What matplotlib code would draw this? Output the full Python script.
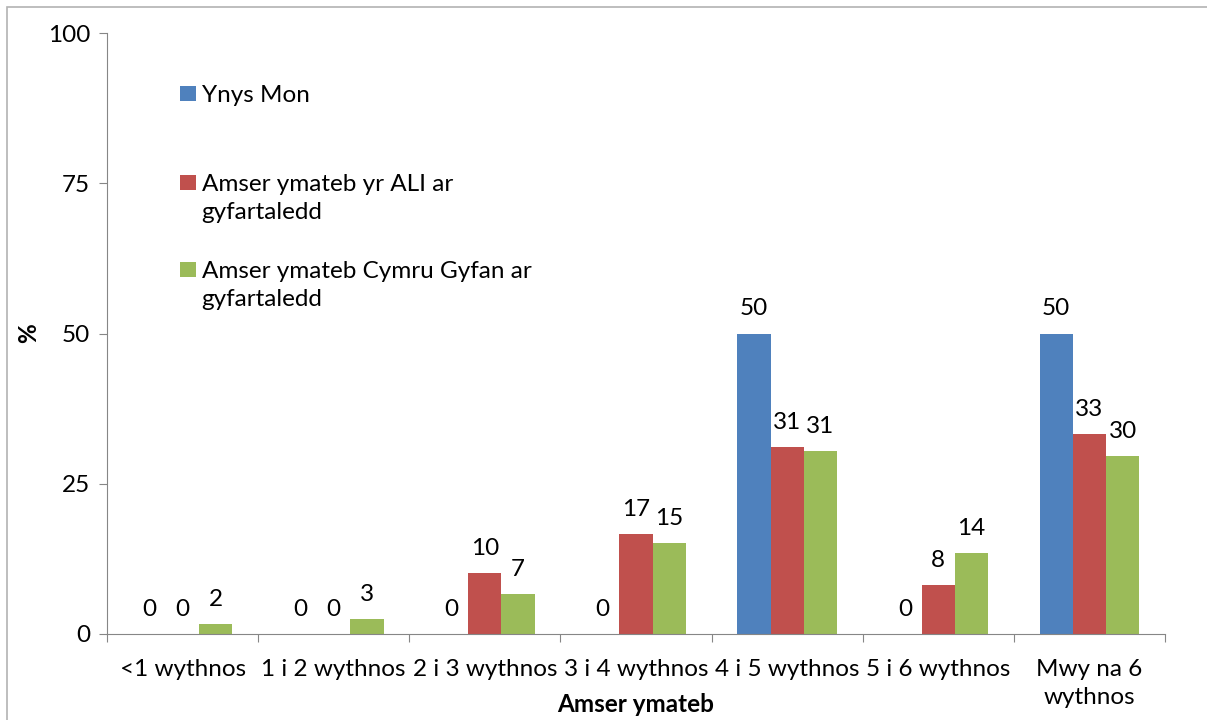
import numpy as np
import matplotlib.pyplot as plt
from matplotlib.patches import Rectangle

categories = ['<1 wythnos', '1 i 2 wythnos', '2 i 3 wythnos', '3 i 4 wythnos',
              '4 i 5 wythnos', '5 i 6 wythnos', 'Mwy na 6\nwythnos']
series = ['Ynys Mon', 'Amser ymateb yr ALI ar\ngyfartaledd',
          'Amser ymateb Cymru Gyfan ar\ngyfartaledd']
ynys_mon = [0, 0, 0, 0, 50, 0, 50]
ali = [0, 0, 10.2, 16.6, 31.1, 8.2, 33.2]
cymru = [1.6, 2.5, 6.6, 15.1, 30.5, 13.5, 29.6]
colors = ['#4F81BD', '#C0504D', '#9BBB59']

plt.rcParams['font.family'] = ['Lato', 'DejaVu Sans']
fs = 17.5

fig = plt.figure(figsize=(12.07, 7.2), dpi=100)
ax = fig.add_axes([107/1207, 1 - 634/720, (1165 - 107)/1207, (634 - 33)/720])

# border round the chart area
fig.patches.append(Rectangle((7/1207, -0.5), 2, 0.5 + 1 - 7/720, transform=fig.transFigure,
                             facecolor='none', edgecolor='#b3b3b3', lw=1.2))

x = np.arange(len(categories))
w = 0.22
for i, (vals, c) in enumerate(zip([ynys_mon, ali, cymru], colors)):
    pos = x + (i - 1) * w
    ax.bar(pos, vals, width=w, color=c, edgecolor='none')
    for px, v in zip(pos, vals):
        # round half up like the spreadsheet does
        ax.annotate('%d' % np.floor(v + 0.5), (px, v), xytext=(0, 13), textcoords='offset points',
                    ha='center', va='baseline', fontsize=fs)

ax.set_xlim(-0.5, len(categories) - 0.5)
ax.set_ylim(0, 100)
ax.set_yticks([0, 25, 50, 75, 100])
ax.tick_params(axis='y', labelsize=fs, length=6, color='#868686', pad=6)

ax.set_xticks(np.arange(-0.5, len(categories)), labels=[])
ax.set_xticks(x, labels=categories, minor=True)
ax.tick_params(axis='x', which='major', length=6, color='#868686')
ax.tick_params(axis='x', which='minor', length=0, labelsize=fs, pad=18)
for lab in ax.get_xticklabels(minor=True):
    lab.set_linespacing(1.4)

for s in ['top', 'right']:
    ax.spines[s].set_visible(False)
for s in ['left', 'bottom']:
    ax.spines[s].set_color('#868686')

ax.set_xlabel('Amser ymateb', fontsize=fs, fontweight='bold')
ax.xaxis.set_label_coords(0.5, -0.098)
ax.set_ylabel('%', fontsize=fs, fontweight='bold')
ax.yaxis.set_label_coords(-0.063, 0.5)

# legend drawn by hand so the swatch sits on the first line
leg_y = [0.900, 0.752, 0.607]
for name, c, ly in zip(series, colors, leg_y):
    ax.add_patch(Rectangle((0.069, ly - 0.0125), 0.015, 0.025, transform=ax.transAxes,
                           facecolor=c, edgecolor='none', clip_on=False))
    ax.text(0.0895, ly + 0.013, name, transform=ax.transAxes, fontsize=fs,
            va='top', ha='left', linespacing=1.4)

fig.savefig('out.png', dpi=100)
